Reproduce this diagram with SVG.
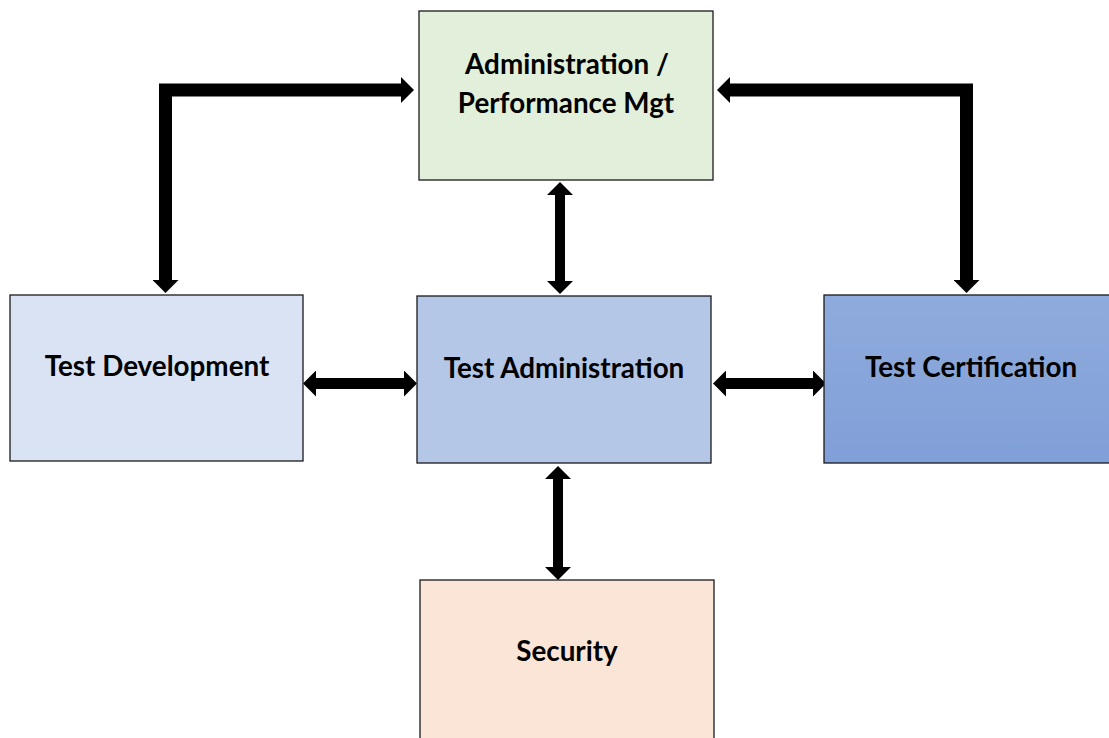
<svg xmlns="http://www.w3.org/2000/svg" width="1109" height="738" viewBox="0 0 1109 738">
<defs>
<style>
.box{stroke:#1a1a1a;stroke-width:1.3}
.lbl{font-family:Lato,"Liberation Sans",sans-serif;font-weight:bold;font-size:27.8px;fill:#000;text-anchor:middle}
.conn{fill:none;stroke:#000;stroke-linejoin:miter;marker-start:url(#ah);marker-end:url(#ah)}
</style>
<marker id="ah" markerUnits="userSpaceOnUse" viewBox="0 0 13 26" refX="1" refY="13" markerWidth="13" markerHeight="26" orient="auto-start-reverse">
<path d="M0,0 L13,13 L0,26 Z" fill="#000"/>
</marker>
<linearGradient id="certGrad" x1="0" y1="0" x2="0" y2="1">
<stop offset="0" stop-color="#8FABDD"/>
<stop offset="1" stop-color="#819FD8"/>
</linearGradient>
</defs>
<rect width="1109" height="738" fill="#fff"/>
<g id="connectors">
<path class="conn" style="stroke-width:13" d="M165.5,281 V90 H402"/>
<path class="conn" style="stroke-width:13" d="M729,90 H966.5 V281"/>
<path class="conn" style="stroke-width:10" d="M560,194 V282"/>
<path class="conn" style="stroke-width:11" d="M315,383.5 H405"/>
<path class="conn" style="stroke-width:11" d="M725,383.5 H814"/>
<path class="conn" style="stroke-width:10" d="M558,478 V568"/>
</g>
<g id="admin-perf">
<rect class="box" x="419" y="11" width="294" height="169" fill="#E2EFDA"/>
<text class="lbl" x="567" y="74">Administration /</text>
<text class="lbl" x="566" y="113">Performance Mgt</text>
</g>
<g id="test-development">
<rect class="box" x="10" y="295" width="293" height="166" fill="#DAE3F3"/>
<text class="lbl" x="157" y="376">Test Development</text>
</g>
<g id="test-administration">
<rect class="box" x="417" y="296" width="294" height="167" fill="#B4C7E7"/>
<text class="lbl" x="564" y="378">Test Administration</text>
</g>
<g id="test-certification">
<rect class="box" x="824" y="295" width="300" height="168" fill="url(#certGrad)"/>
<text class="lbl" x="971" y="377">Test Certification</text>
</g>
<g id="security">
<rect class="box" x="420" y="580" width="294" height="170" fill="#FBE5D6"/>
<text class="lbl" x="567" y="661">Security</text>
</g>
</svg>
